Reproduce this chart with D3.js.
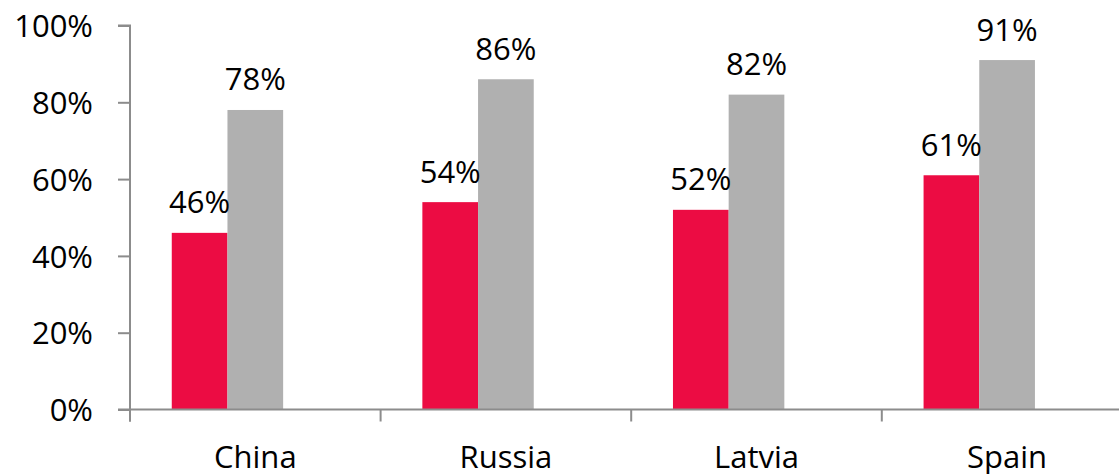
<!DOCTYPE html>
<html>
<head>
<meta charset="utf-8">
<script src="https://cdn.jsdelivr.net/npm/d3@7"></script>
<style>
  html, body { margin: 0; padding: 0; background: #fff; }
  svg { display: block; }
  text { font-family: "Open Sans", sans-serif; fill: #000; }
</style>
</head>
<body>
<svg id="chart" width="1119" height="474"></svg>
<script>
// Categories and the two series shown per country
const countries = ["China", "Russia", "Latvia", "Spain"];
const seriesA = [46, 54, 52, 61];   // red bars
const seriesB = [78, 86, 82, 91];   // grey bars
const yTicks = [0, 20, 40, 60, 80, 100];
// Three slots per country; the last slot stays empty
const slots = ["a", "b", "empty"];

const colors = { a: "#EC0C43", b: "#B0B0B0" };
const axisColor = "#8C8C8C";
const fontSize = "31px";

const svg = d3.select("#chart");
const plotLeft = 130, plotTop = 25.5, plotBottom = 409.5;
const step = 250.6;

const x0 = d3.scaleBand()
  .domain(countries)
  .range([plotLeft, plotLeft + step * countries.length])
  .paddingInner(0).paddingOuter(0);

const x1 = d3.scaleBand()
  .domain(slots)
  .range([0, x0.bandwidth()])
  .paddingInner(0)
  .paddingOuter(0.75);

const y = d3.scaleLinear().domain([0, 100]).range([plotBottom, plotTop]);

const rows = countries.map((c, i) => ({ country: c, a: seriesA[i], b: seriesB[i] }));

// Bars
const groups = svg.append("g").selectAll("g")
  .data(rows).join("g")
  .attr("transform", d => `translate(${x0(d.country)},0)`);

groups.selectAll("rect")
  .data(d => ["a", "b"].map(k => ({ key: k, value: d[k] })))
  .join("rect")
  .attr("x", d => x1(d.key))
  .attr("width", x1.bandwidth())
  .attr("y", d => y(d.value))
  .attr("height", d => y(0) - y(d.value))
  .attr("fill", d => colors[d.key]);

// Value labels
groups.selectAll("text.val")
  .data(d => ["a", "b"].map(k => ({ key: k, value: d[k] })))
  .join("text")
  .attr("class", "val")
  .attr("x", d => x1(d.key) + x1.bandwidth() / 2)
  .attr("y", d => y(d.value) - 19.5)
  .attr("text-anchor", "middle")
  .style("font-size", fontSize)
  .text(d => d.value + "%");

// Y axis
const yAxis = svg.append("g")
  .attr("transform", `translate(${plotLeft},0)`)
  .call(d3.axisLeft(y).tickValues(yTicks).tickSize(12).tickPadding(25)
    .tickFormat(d => d + "%"));
yAxis.select(".domain").attr("stroke", axisColor).attr("stroke-width", 2)
  .attr("d", `M${-12},${plotTop}H0V${plotBottom + 12}`);
yAxis.selectAll(".tick line").attr("stroke", axisColor).attr("stroke-width", 2);
yAxis.selectAll(".tick text")
  .style("font-size", fontSize)
  .attr("font-family", null)
  .attr("dy", "0.36em");

// X axis
const xAxis = svg.append("g")
  .attr("transform", `translate(0,${plotBottom})`)
  .call(d3.axisBottom(x0).tickSize(0));
xAxis.select(".domain").attr("stroke", axisColor).attr("stroke-width", 2)
  .attr("d", `M${plotLeft - 12},0H${plotLeft + step * countries.length}`);
xAxis.selectAll(".tick text")
  .style("font-size", fontSize)
  .attr("font-family", null)
  .attr("y", 58.5)
  .attr("dy", 0);

// Category divider ticks below the axis
svg.append("g").selectAll("line")
  .data(countries.concat(["end"]))
  .join("line")
  .attr("x1", (d, i) => plotLeft + step * i)
  .attr("x2", (d, i) => plotLeft + step * i)
  .attr("y1", plotBottom)
  .attr("y2", plotBottom + 12)
  .attr("stroke", axisColor)
  .attr("stroke-width", 2);
</script>
</body>
</html>
